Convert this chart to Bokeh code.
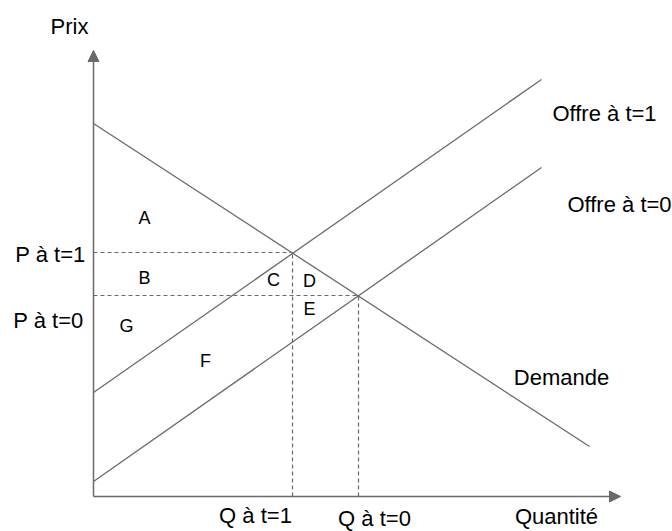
from bokeh.plotting import figure
from bokeh.models import Arrow, NormalHead, ColumnDataSource
from bokeh.core.properties import value
from bokeh.embed import file_html
from bokeh.resources import INLINE

# --- data (abstract units: quantity, price) ---
demand_q = [0.0, 9.92]
demand_p = [7.46, 1.00]
supply1_q = [0.0, 8.96]
supply1_p = [2.08, 8.34]
supply0_q = [0.0, 8.96]
supply0_p = [0.30, 6.58]
eq1_q, eq1_p = 3.98, 4.88     # equilibrium at t=1
eq0_q, eq0_p = 5.30, 4.02     # equilibrium at t=0
axis_q_max = 10.54
axis_p_max = 8.92

# labels
big_labels = ["Prix", "P à t=1", "P à t=0", "Offre à t=1", "Offre à t=0", "Demande",
              "Q à t=1", "Q à t=0", "Quantité"]
big_q = [-0.48, -0.86, -0.90, 10.22, 10.52, 9.36, 3.24, 5.62, 9.26]
big_p = [9.40, 4.84, 3.52, 7.66, 5.84, 2.38, -0.38, -0.44, -0.40]

area_labels = ["A", "B", "C", "D", "E", "G", "F"]
area_q = [1.02, 1.02, 3.60, 4.32, 4.32, 0.66, 2.24]
area_p = [5.58, 4.38, 4.34, 4.32, 3.76, 3.42, 2.72]

line_col = "#6a6a6a"

p = figure(width=672, height=531, output_backend="svg", toolbar_location=None,
           x_range=(-1.86, 11.58), y_range=(-0.70, 9.92), min_border=0)
p.axis.visible = False
p.grid.visible = False
p.outline_line_color = None
p.background_fill_color = "white"
p.border_fill_color = "white"

# axes with arrows
p.add_layout(Arrow(x_start=0, y_start=0, x_end=0, y_end=axis_p_max,
                   line_color=line_col, line_width=1.5,
                   end=NormalHead(size=11, fill_color=line_col, line_color=line_col)))
p.add_layout(Arrow(x_start=0, y_start=0, x_end=axis_q_max, y_end=0,
                   line_color=line_col, line_width=1.5,
                   end=NormalHead(size=11, fill_color=line_col, line_color=line_col)))

# curves
p.line(demand_q, demand_p, line_color=line_col, line_width=1.3)
p.line(supply1_q, supply1_p, line_color=line_col, line_width=1.3)
p.line(supply0_q, supply0_p, line_color=line_col, line_width=1.3)

# dashed guides
p.line([0, eq1_q], [eq1_p, eq1_p], line_color=line_col, line_width=1.2, line_dash="4 3")
p.line([0, eq0_q], [eq0_p, eq0_p], line_color=line_col, line_width=1.2, line_dash="4 3")
p.line([eq1_q, eq1_q], [0, eq1_p], line_color=line_col, line_width=1.2, line_dash="4 3")
p.line([eq0_q, eq0_q], [0, eq0_p], line_color=line_col, line_width=1.2, line_dash="4 3")

# texts
src_big = ColumnDataSource(dict(x=big_q, y=big_p, t=big_labels))
p.text(x="x", y="y", text="t", source=src_big, text_align="center", text_baseline="middle",
       text_font=value("Liberation Sans"), text_font_size="22px", text_color="black")

src_area = ColumnDataSource(dict(x=area_q, y=area_p, t=area_labels))
p.text(x="x", y="y", text="t", source=src_area, text_align="center", text_baseline="middle",
       text_font=value("Liberation Sans"), text_font_size="18px", text_color="black")

open("out.html", "w").write(file_html(p, INLINE))
